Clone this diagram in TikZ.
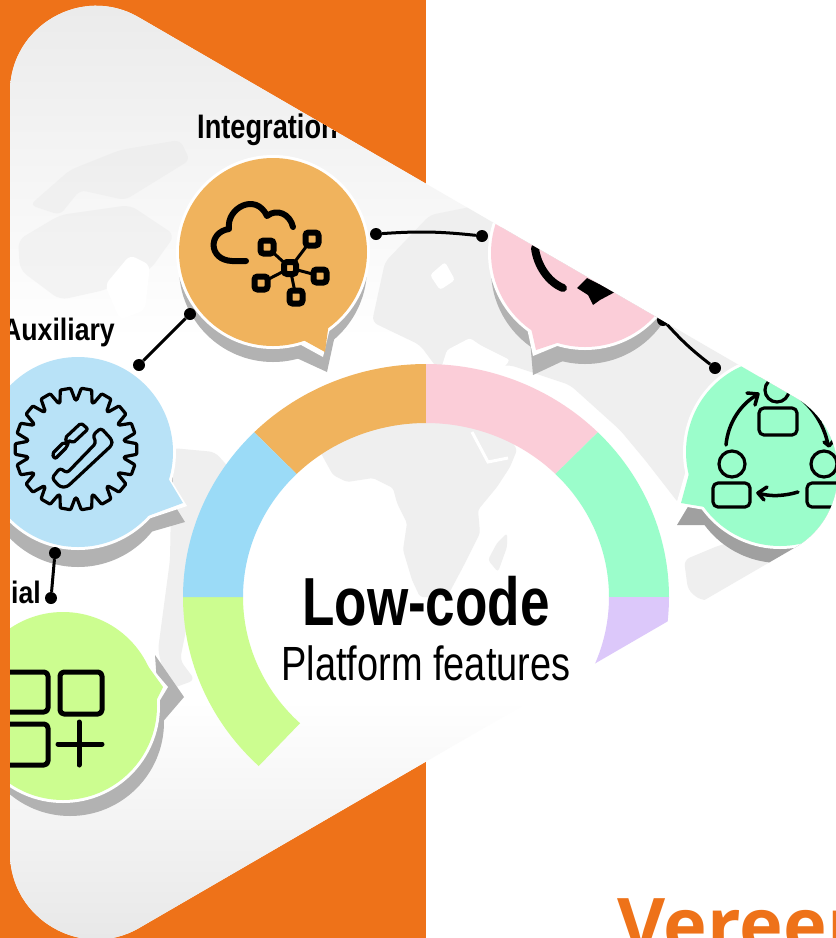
\documentclass[tikz,border=0pt]{standalone}
\usepackage{fontspec}
\setmainfont{Liberation Sans}
\newfontfamily\lowfont[FakeStretch=0.78]{Liberation Sans}
\newfontfamily\platfont[FakeStretch=0.79]{Liberation Sans}
\newfontfamily\labfont[FakeStretch=0.8]{Liberation Sans}
\newfontfamily\labfontB[FakeStretch=0.86]{Liberation Sans}
\newfontfamily\verfont{Open Sans}
\definecolor{brand}{HTML}{EE7219}
\definecolor{mapgray}{HTML}{EFEFEF}
\definecolor{shadowgray}{HTML}{B2B2B2}
\definecolor{cOrange}{HTML}{F0B35D}
\definecolor{cPink}{HTML}{FBCDD8}
\definecolor{cMint}{HTML}{9BFDCB}
\definecolor{cPurple}{HTML}{DCC8FA}
\definecolor{cGreen}{HTML}{CCFD90}
\definecolor{cBlue}{HTML}{9BDBF7}
\definecolor{cBlueB}{HTML}{B8E2F7}
\tikzset{
  icon/.style={draw=black,line width=5pt,line cap=round,line join=round},
  thinicon/.style={draw=black,line width=3.2pt,line cap=round,line join=round},
  dotnode/.style={circle,fill=black,inner sep=0pt,minimum size=12pt},
  link/.style={draw=black,line width=3pt},
  lab/.style={inner sep=0pt,anchor=base west,text=black},
  netbox/.style={draw=black,line width=6pt,rounded corners=3pt,fill=cOrange,minimum size=13pt,inner sep=0pt},
  mapblob/.style={fill=mapgray,rounded corners=6pt},
}
\newcommand\ringseg[3]{%
  \fill[#3] plot[domain=#1:#2,samples=40] ({426+243*cos(\x)},{597+233*sin(\x)})
    -- plot[domain=#2:#1,samples=40] ({426+183*cos(\x)},{597+174*sin(\x)}) -- cycle;
}
% {colour}{cx}{cy}{r}{tail triangle}
\newcommand\blob[5]{%
  \fill[#1] (#2,#3) circle[radius=#4];
  \fill[#1] #5 -- cycle;
}
\begin{document}
\begin{tikzpicture}[x=1pt,y=-1pt]
\useasboundingbox (0,0) rectangle (836,938);
\clip (0,0) rectangle (836,938);
\fill[white] (0,0) rectangle (836,938);
\fill[brand] (0,0) rectangle (426,938);
\begin{scope}
\clip (10,92) .. controls (10,26) and (82,-16) .. (139,17.5)
  -- (795,397.5) .. controls (852,430.5) and (852,514.5) .. (795,547.5)
  -- (139,928) .. controls (82,961) and (10,919) .. (10,853) -- cycle;
\fill[white] (0,0) rectangle (836,938);
\shade[top color=black!8,bottom color=white] (0,0) rectangle (836,340);
\shade[top color=white,bottom color=black!9] (0,700) rectangle (836,938);
% map
\fill[black!10,opacity=.35,rounded corners=6pt] (30,205) -- (70,170) -- (120,150) -- (180,140) -- (190,160) -- (125,200) -- (80,190) -- (60,215) -- cycle;
\fill[black!10,opacity=.35,rounded corners=8pt] (18,240) -- (60,215) -- (130,205) -- (175,235) -- (150,270) -- (105,290) -- (60,300) -- (20,270) -- cycle;
\fill[white,rounded corners=6pt] (105,285) -- (130,255) -- (150,265) -- (145,310) -- (120,320) -- cycle;
\fill[mapblob] (172,448) -- (215,452) -- (240,480) -- (205,550) -- (190,610) -- (180,660) -- (195,680) -- (168,690) -- (158,650) -- (170,560) -- cycle;
\fill[mapblob] (372,322) -- (385,262) -- (430,215) -- (480,205) -- (620,240) -- (700,320) -- (770,380) -- (700,420) -- (690,470) -- (680,505) -- (645,460) -- (620,430) -- (570,385) -- (510,365) -- (440,372) -- (420,345) -- cycle;
\fill[white,rounded corners=3pt] (447,350) -- (470,338) -- (480,345) -- (510,360) -- (500,372) -- (440,372) -- cycle;
\fill[white,rounded corners=3pt] (430,275) -- (445,262) -- (455,280) -- (440,290) -- cycle;
\fill[mapblob] (684,560) -- (720,545) -- (790,530) -- (790,580) -- (740,600) -- (700,600) -- (688,590) -- cycle;
% Africa
\fill[mapblob,rounded corners=3pt] (315,440) -- (323,457) -- (333,475) -- (347,482) -- (373,478) -- (393,488) -- (397,503) -- (407,523) -- (403,550) -- (412,580) -- (420,597) -- (447,597) -- (463,567) -- (480,533) -- (478,510) -- (497,487) -- (510,467) -- (517,450) -- (500,420) -- (420,405) -- cycle;
\fill[mapblob,rounded corners=3pt] (507,533) -- (497,543) -- (488,560) -- (498,572) -- (507,547) -- cycle;
\draw[white,line width=3pt] (472,432) -- (488,462) -- (508,458);
% ring
\ringseg{225}{270}{cOrange}
\ringseg{270}{315}{cPink}
\ringseg{315}{360}{cMint}
\ringseg{0}{45}{cPurple}
\ringseg{133.5}{180}{cGreen}
\ringseg{180}{225}{cBlue}
% Integration bubble
\blob{shadowgray}{273}{268}{94}{(335,335) -- (327,372) -- (290,355)}
\blob{white}{273}{252}{97}{(332,320) -- (323,357) -- (292,340)}
\blob{cOrange}{273}{252}{94}{(329,322) -- (325,352) -- (296,336)}
% Pink bubble
\blob{shadowgray}{585}{270}{94}{(530,340) -- (533,375) -- (565,360)}
\blob{white}{585}{253}{97}{(527,328) -- (533,356) -- (562,344)}
\blob{cPink}{585}{253}{94}{(531,328) -- (536,350) -- (560,342)}
% Mint bubble
\blob{shadowgray!90!black}{780}{469}{94}{(695,495) -- (677,525) -- (710,525)}
\blob{white}{780}{452}{97}{(686,470) -- (676,505) -- (705,510)}
\blob{cMint}{780}{452}{94}{(690,470) -- (681,503) -- (705,507)}
% Blue bubble
\blob{shadowgray}{78}{472}{95}{(165,490) -- (185,522) -- (140,535)}
\blob{white}{78}{452}{98}{(168,475) -- (187,506) -- (145,520)}
\blob{cBlueB}{78}{452}{95}{(168,478) -- (183,503) -- (145,517)}
% Green bubble
\blob{shadowgray}{70}{722}{94}{(155,655) -- (184,697) -- (160,725)}
\blob{white}{63}{706}{97}{(145,660) -- (168,687) -- (148,720)}
\blob{cGreen}{63}{706}{94}{(145,662) -- (163,687) -- (148,717)}
% connectors
\node[dotnode] (d1) at (376,234) {};
\node[dotnode] (d2) at (482,236) {};
\draw[link] (d1) to[bend left=5] (d2);
\node[dotnode] (d3) at (190,314) {};
\node[dotnode] (d4) at (139,365) {};
\draw[link] (d3) -- (d4);
\node[dotnode] (d5) at (55,553) {};
\node[dotnode] (d6) at (51,598) {};
\draw[link] (d5) -- (d6);
\node[dotnode] (d7) at (663,320) {};
\node[dotnode] (d8) at (715,368) {};
\draw[link] (d7) to[bend right=5] (d8);
% cloud icon
\draw[icon,line width=6pt] (246,261) -- (232,261) .. controls (208,260) and (208,232) .. (229,229)
  .. controls (226,208) and (256,192) .. (267,216)
  .. controls (277,208) and (290,214) .. (293,227);
\coordinate (nc) at (290,268);
\draw[link] (nc) -- (267,247) (nc) -- (312,239) (nc) -- (261,283) (nc) -- (320,276) (nc) -- (296,297);
\node[netbox,minimum size=12pt] (n0) at (nc) {};
\node[netbox] (n1) at (267,247) {};
\node[netbox] (n2) at (312,239) {};
\node[netbox] (n3) at (261,283) {};
\node[netbox] (n4) at (320,276) {};
\node[netbox] (n5) at (296,297) {};
% gear icon
\draw[thinicon,rounded corners=1pt]
  ({76+49*cos(-9)},{449+49*sin(-9)}) \foreach \a in {0,20,...,340}{
    -- ({76+49*cos(\a-9)},{449+49*sin(\a-9)})
    -- ({76+61*cos(\a-5)},{449+61*sin(\a-5)})
    -- ({76+61*cos(\a+5)},{449+61*sin(\a+5)})
    -- ({76+49*cos(\a+9)},{449+49*sin(\a+9)})
  } -- cycle;
\draw[thinicon,rounded corners=3pt] (52,478) -- (60,468) -- (67,473) -- (96,443) -- (93,435) -- (101,428) -- (112,440) -- (112,445) -- (67,487) -- (60,487) -- cycle;
\draw[thinicon,rounded corners=2pt] (52,454) -- (64,442) -- (68,445) -- (65,438) -- (81,423) -- (88,429) -- (73,443) -- (69,440) -- (67,447) -- (55,459) -- cycle;
% grid icon
\draw[icon,rounded corners=4pt] (5,672) rectangle (48,712);
\draw[icon,rounded corners=4pt] (60,672) rectangle (102,714);
\draw[icon,rounded corners=4pt] (5,724) rectangle (48,765);
\draw[icon] (58,744) -- (102,744) (79,722) -- (79,765);
% pink icon
\draw[icon,line width=8pt] (535,248) .. controls (537,265) and (548,282) .. (563,288);
\fill[black] (577,288) -- (587,278) -- (615,292) -- (600,300) -- (593,305) -- (588,295) -- cycle;
% people icon
\draw[thinicon] (777,390) circle[radius=12];
\draw[thinicon,rounded corners=5pt] (759,408) rectangle (797,435);
\draw[thinicon] (732,464) circle[radius=13];
\draw[thinicon,rounded corners=5pt] (713,483) rectangle (750,507);
\draw[thinicon] (824,464) circle[radius=13];
\draw[thinicon,rounded corners=5pt] (807,483) rectangle (843,507);
\draw[thinicon,line width=3.5pt] (726,445) .. controls (728,422) and (742,403) .. (757,395);
\draw[thinicon,line width=3.5pt] (747,393) -- (758,394) -- (755,405);
\draw[thinicon,line width=3.5pt] (800,398) .. controls (815,410) and (825,428) .. (828,445);
\draw[thinicon,line width=3.5pt] (824,442) -- (829,446) -- (834,440);
\draw[thinicon,line width=3.5pt] (798,492) .. controls (785,496) and (770,497) .. (758,493);
\draw[thinicon,line width=3.5pt] (767,487) -- (758,493) -- (764,500);
% labels
\node[lab,font=\labfont\bfseries\fontsize{34}{34}\selectfont] (lbInt) at (197,138) {Integration};
\node[lab,font=\labfontB\bfseries\fontsize{31}{31}\selectfont] (lbAux) at (2,340) {Auxiliary};
\node[lab,font=\labfontB\bfseries\fontsize{31}{31}\selectfont,anchor=base east] (lbSpec) at (41,603) {ial};
\node[font=\lowfont\bfseries\fontsize{68}{68}\selectfont,inner sep=0pt,anchor=base] (title) at (426,625) {Low-code};
\node[font=\platfont\fontsize{48}{48}\selectfont,inner sep=0pt,anchor=base] (sub) at (426,680) {Platform features};
\end{scope}
\node[font=\verfont\bfseries\fontsize{74}{74}\selectfont,text=brand,inner sep=0pt,anchor=base west] (ver) at (617,951) {Vereer};
\end{tikzpicture}
\end{document}
